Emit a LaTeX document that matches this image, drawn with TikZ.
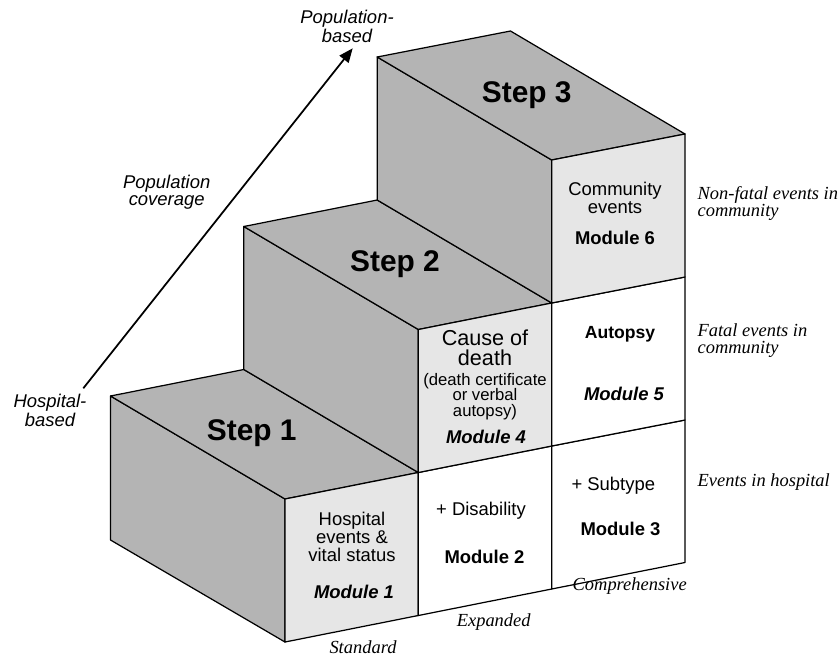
\documentclass[tikz,border=0pt]{standalone}
\usepackage{fontspec}
\setmainfont{Liberation Serif}
\setsansfont{Liberation Sans}
\usetikzlibrary{arrows.meta}
\definecolor{stepgray}{RGB}{180,180,180}
\definecolor{celllight}{RGB}{230,230,230}

\begin{document}
\begin{tikzpicture}[x=0.02cm,y=-0.02cm,line join=round,line width=0.7pt]
\tikzstyle{face}=[draw,fill=stepgray]
\tikzstyle{lit}=[draw,fill=celllight]
\tikzstyle{plain}=[draw,fill=white]
\tikzstyle{txt}=[font=\sffamily\fontsize{10.5}{10.2}\selectfont,align=center,inner sep=0pt]
\tikzstyle{mod}=[font=\sffamily\bfseries\fontsize{10.5}{10.2}\selectfont,inner sep=0pt]
\tikzstyle{imod}=[font=\sffamily\bfseries\itshape\fontsize{10.5}{10.2}\selectfont,inner sep=0pt]
\tikzstyle{steplbl}=[font=\sffamily\bfseries\fontsize{17}{17}\selectfont,inner sep=0pt]
\tikzstyle{axis}=[font=\sffamily\itshape\fontsize{10.5}{9.6}\selectfont,align=center,inner sep=0pt]
\tikzstyle{side}=[font=\rmfamily\itshape\fontsize{10.5}{9.6}\selectfont,align=left,inner sep=0pt]
  \useasboundingbox(0,0)rectangle(838,657);
  \coordinate(f00)at(285,642);
  \coordinate(f01)at(285,499);
  \coordinate(f10)at(418.3,615.5);
  \coordinate(f11)at(418.3,472.5);
  \coordinate(f12)at(418.3,329.5);
  \coordinate(f20)at(551.7,589);
  \coordinate(f21)at(551.7,446);
  \coordinate(f22)at(551.7,303);
  \coordinate(f23)at(551.7,160);
  \coordinate(f30)at(685,562.5);
  \coordinate(f31)at(685,420);
  \coordinate(f32)at(685,277);
  \coordinate(f33)at(685,134);
  \coordinate(b00)at(110.5,540);
  \coordinate(b01)at(110.5,396);
  \coordinate(b11)at(243.8,369.5);
  \coordinate(b12)at(243.8,226.5);
  \coordinate(b22)at(377.2,200);
  \coordinate(b23)at(377.2,57);
  \coordinate(b33)at(510.5,31);
  \draw[face](b00)--(b01)--(f01)--(f00)--cycle;
  \draw[face](b01)--(b11)--(f11)--(f01)--cycle;
  \draw[face](b11)--(b12)--(f12)--(f11)--cycle;
  \draw[face](b12)--(b22)--(f22)--(f12)--cycle;
  \draw[face](b22)--(b23)--(f23)--(f22)--cycle;
  \draw[face](b23)--(b33)--(f33)--(f23)--cycle;
  \draw[lit](f00)--(f10)--(f11)--(f01)--cycle;
  \draw[plain](f10)--(f20)--(f21)--(f11)--cycle;
  \draw[plain](f20)--(f30)--(f31)--(f21)--cycle;
  \draw[lit](f11)--(f21)--(f22)--(f12)--cycle;
  \draw[plain](f21)--(f31)--(f32)--(f22)--cycle;
  \draw[lit](f22)--(f32)--(f33)--(f23)--cycle;
  \node(s1)at(251.7,440)[steplbl,anchor=base]{Step 1};
  \node(s2)at(395,271.7)[steplbl,anchor=base]{Step 2};
  \node(s3)at(526.7,102.7)[steplbl,anchor=base]{Step 3};
  \node(t1)at(352,561.7)[txt,anchor=base]{Hospital\\events \&\\vital status};
  \node(m1)at(354,598.3)[imod,anchor=base]{Module 1};
  \node(t2)at(481,515)[txt,anchor=base]{+ Disability};
  \node(m2)at(484.5,563.3)[mod,anchor=base]{Module 2};
  \node(t3)at(613.3,490)[txt,anchor=base]{+ Subtype};
  \node(m3)at(620.5,535)[mod,anchor=base]{Module 3};
  \node(t4)at(485,365)[txt,font=\sffamily\fontsize{12.3}{11.3}\selectfont,anchor=base]{Cause of\\death};
  \node(t4b)at(485,416.7)[txt,font=\sffamily\fontsize{9.5}{9}\selectfont,anchor=base]{(death certificate\\or verbal\\autopsy)};
  \node(m4)at(486,443.3)[imod,anchor=base]{Module 4};
  \node(t5)at(620,338.3)[mod,font=\sffamily\bfseries\fontsize{10}{10}\selectfont,anchor=base]{Autopsy};
  \node(m5)at(624,400)[imod,anchor=base]{Module 5};
  \node(t6)at(615,213.3)[txt,anchor=base]{Community\\events};
  \node(m6)at(615,244)[mod,anchor=base]{Module 6};
  \node(hosp)at(50,426.7)[axis,anchor=base]{Hospital-\\based};
  \node(cov)at(166.7,205)[axis,anchor=base]{Population\\coverage};
  \node(pop)at(347,42.7)[axis,anchor=base]{Population-\\based};
  \coordinate(ahb)at(83.3,388.3);
  \coordinate(apb)at(352.7,48.3);
  \draw[-{Triangle[length=8pt,width=6.5pt]},line width=1pt](ahb)--(apb);
  \node(nf)at(697,216.7)[side,anchor=base west]{Non-fatal events in\\community};
  \node(fe)at(697,353)[side,anchor=base west]{Fatal events in\\community};
  \node(eh)at(697,486.7)[side,anchor=base west]{Events in hospital};
  \node(std)at(363,653.3)[side,anchor=base]{Standard};
  \node(exp)at(493.7,626.7)[side,anchor=base]{Expanded};
  \node(cmp)at(629.7,590)[side,anchor=base]{Comprehensive};
\end{tikzpicture}
\end{document}
